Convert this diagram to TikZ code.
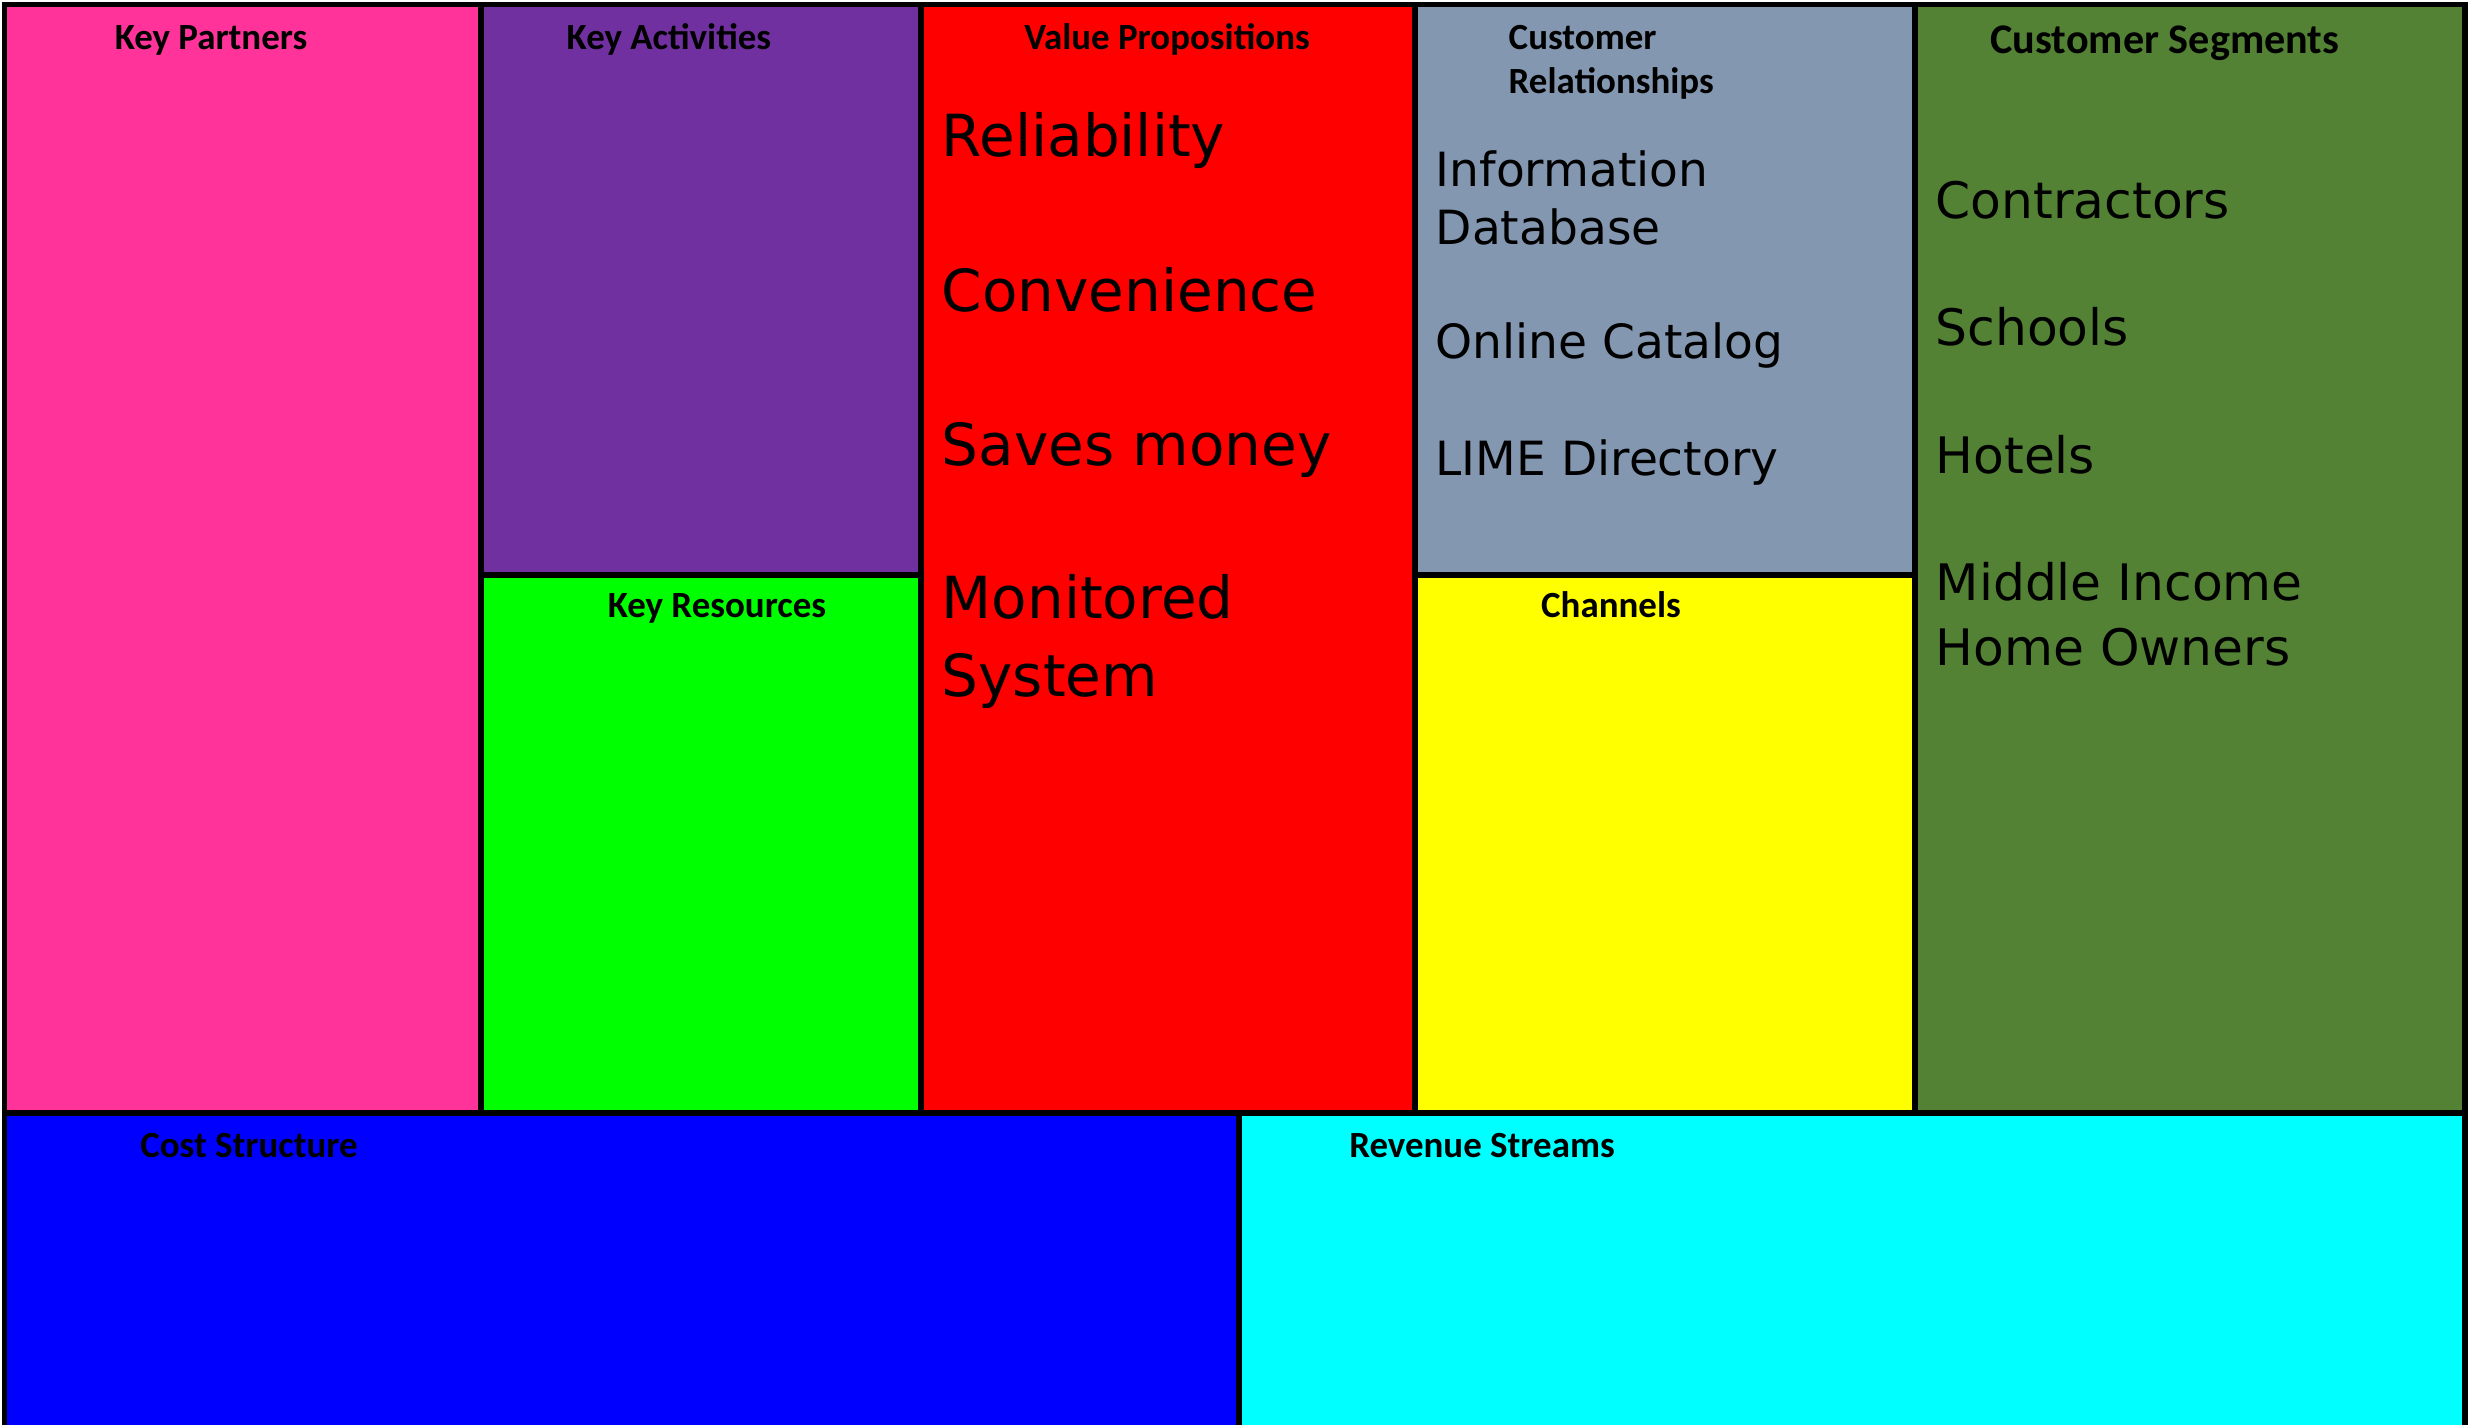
\documentclass[tikz,border=0pt]{standalone}
\usepackage{fontspec}
\setmainfont{Carlito}
\newfontfamily\hand{DejaVu Sans}
\definecolor{kpcol}{HTML}{FF3399}
\definecolor{kacol}{HTML}{7030A0}
\definecolor{krcol}{HTML}{00FF00}
\definecolor{vpcol}{HTML}{FF0000}
\definecolor{crcol}{HTML}{8497B0}
\definecolor{chcol}{HTML}{FFFF00}
\definecolor{cscol}{HTML}{548235}
\definecolor{costcol}{HTML}{0000FF}
\definecolor{revcol}{HTML}{00FFFF}
\begin{document}
\begin{tikzpicture}[x=0.01cm,y=-0.01cm,
  cell/.style={draw=black,line width=1.7pt},
  ttl/.style={font=\bfseries\fontsize{10.5}{12.5}\selectfont,anchor=base,inner sep=0pt},
  ttlleft/.style={ttl,anchor=base west},
  ttlbig/.style={font=\bfseries\fontsize{12}{14}\selectfont,anchor=base,inner sep=0pt},
  vpitem/.style={font=\hand\fontsize{16.5}{20}\selectfont,anchor=base west,inner sep=0pt},
  critem/.style={font=\hand\fontsize{13.4}{16}\selectfont,anchor=base west,inner sep=0pt},
  csitem/.style={font=\hand\fontsize{14.3}{17}\selectfont,anchor=base west,inner sep=0pt}]
\useasboundingbox (0,0) rectangle (2469,1425);
\fill[white] (0,0) rectangle (2469,1425);
\begin{scope}
\clip (0,0) rectangle (2469,1425);
\draw[cell,fill=kpcol] (4.5,4.5) rectangle (481,1113);
\draw[cell,fill=kacol] (481,4.5) rectangle (921,575);
\draw[cell,fill=krcol] (481,575) rectangle (921,1113);
\draw[cell,fill=vpcol] (921,4.5) rectangle (1415,1113);
\draw[cell,fill=crcol] (1415,4.5) rectangle (1915,575);
\draw[cell,fill=chcol] (1415,575) rectangle (1915,1113);
\draw[cell,fill=cscol] (1915,4.5) rectangle (2465,1113);
\draw[cell,fill=costcol] (4.5,1113) rectangle (1239,1450);
\draw[cell,fill=revcol] (1239,1113) rectangle (2465,1450);
\end{scope}
% titles
\node[ttl] (tkp) at (211,50) {Key Partners};
\node[ttl] (tka) at (669,50) {Key Activities};
\node[ttl] (tvp) at (1167,50) {Value Propositions};
\node[ttlleft] (tcr1) at (1508,50) {Customer};
\node[ttlleft] (tcr2) at (1508,94) {Relationships};
\node[ttlbig] (tcs) at (2165,54) {Customer Segments};
\node[ttl] (tkr) at (717,618) {Key Resources};
\node[ttl] (tch) at (1611,618) {Channels};
\node[ttl] (tcost) at (249,1157) {Cost Structure};
\node[ttl] (trev) at (1482,1157) {Revenue Streams};
% value propositions
\node[vpitem] (vp1) at (941,157) {Reliability};
\node[vpitem] (vp2) at (941,312) {Convenience};
\node[vpitem] (vp3) at (941,466) {Saves money};
\node[vpitem] (vp4) at (941,619) {Monitored};
\node[vpitem] (vp5) at (941,697) {System};
% customer relationships
\node[critem] (cr1) at (1435,187) {Information};
\node[critem] (cr2) at (1435,245) {Database};
\node[critem] (cr3) at (1435,359) {Online Catalog};
\node[critem] (cr4) at (1435,476) {LIME Directory};
% customer segments
\node[csitem] (cs1) at (1935,219) {Contractors};
\node[csitem] (cs2) at (1935,346) {Schools};
\node[csitem] (cs3) at (1935,474) {Hotels};
\node[csitem] (cs4) at (1935,601) {Middle Income};
\node[csitem] (cs5) at (1935,666) {Home Owners};
\end{tikzpicture}
\end{document}
